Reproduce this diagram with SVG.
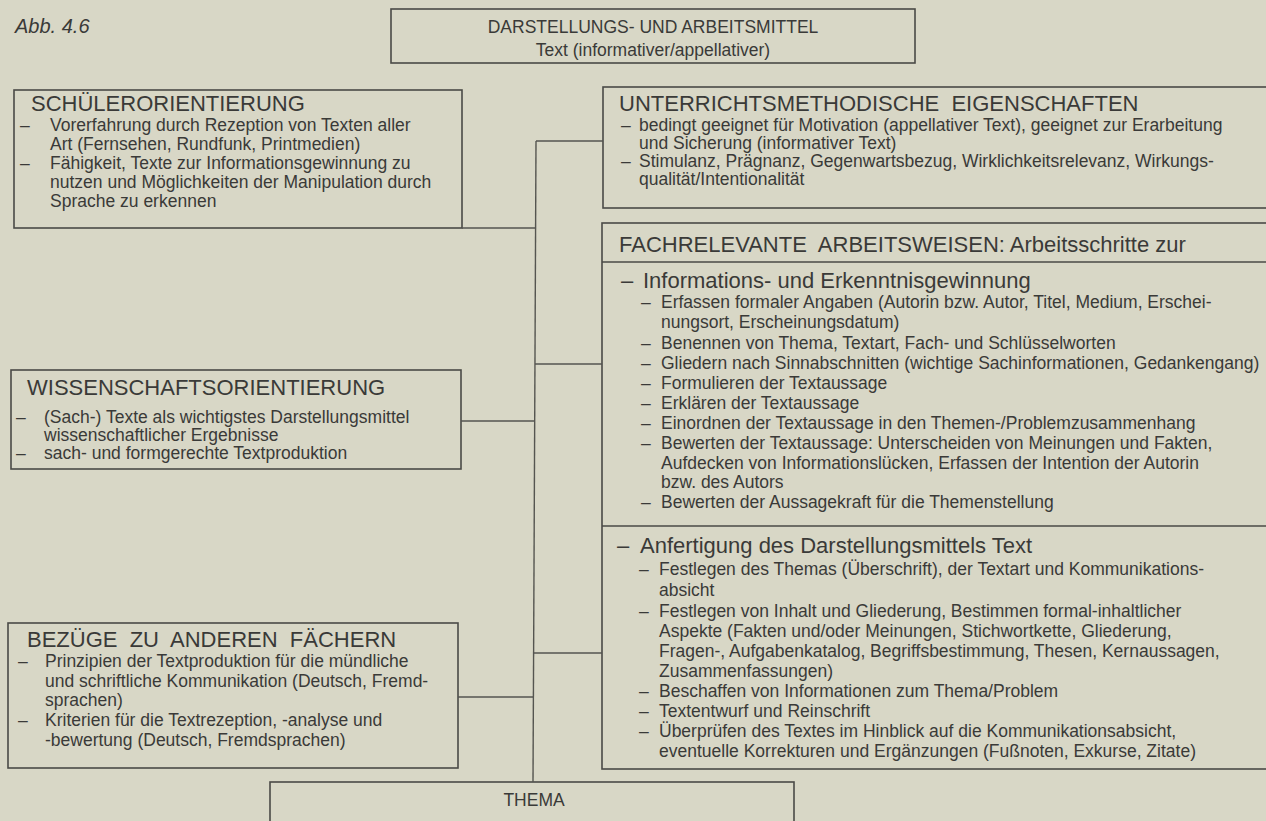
<svg xmlns="http://www.w3.org/2000/svg" width="1266" height="821" viewBox="0 0 1266 821">
<style>
  text { font-family: "Liberation Sans", Arial, Helvetica, sans-serif; fill: #3a3a38; white-space: pre; }
  .t { font-size: 22px; }
  .b { font-size: 17.5px; }
  .c { font-size: 17.5px; text-anchor: middle; }
  .abb { font-size: 20px; font-style: italic; }
  .box { fill: none; stroke: #4a4a46; stroke-width: 1.6; }
  .sep { stroke: #4a4a46; stroke-width: 1.6; }
  .conn line { stroke: #555550; stroke-width: 1.4; }
</style>
<rect x="0" y="0" width="1266" height="821" fill="#d8d7c6"/>

<text class="abb" x="15" y="33">Abb. 4.6</text>

<g id="darstellungsmittel">
  <rect class="box" x="391" y="9" width="524" height="54"/>
  <text class="c" x="653" y="33">DARSTELLUNGS- UND ARBEITSMITTEL</text>
  <text class="c" x="653" y="56">Text (informativer/appellativer)</text>
</g>

<g id="schuelerorientierung">
  <rect class="box" x="14" y="90" width="448" height="138"/>
  <text class="t" x="31" y="111">SCHÜLERORIENTIERUNG</text>
  <text class="b" x="20" y="131">–</text>
  <text class="b" x="50" y="131">Vorerfahrung durch Rezeption von Texten aller</text>
  <text class="b" x="50" y="150">Art (Fernsehen, Rundfunk, Printmedien)</text>
  <text class="b" x="20" y="169">–</text>
  <text class="b" x="50" y="169">Fähigkeit, Texte zur Informationsgewinnung zu</text>
  <text class="b" x="50" y="188">nutzen und Möglichkeiten der Manipulation durch</text>
  <text class="b" x="50" y="207">Sprache zu erkennen</text>
</g>

<g id="wissenschaftsorientierung">
  <rect class="box" x="11" y="370" width="450" height="99"/>
  <text class="t" x="27" y="395">WISSENSCHAFTSORIENTIERUNG</text>
  <text class="b" x="16" y="423">–</text>
  <text class="b" x="44" y="423">(Sach-) Texte als wichtigstes Darstellungsmittel</text>
  <text class="b" x="44" y="441">wissenschaftlicher Ergebnisse</text>
  <text class="b" x="16" y="459">–</text>
  <text class="b" x="44" y="459">sach- und formgerechte Textproduktion</text>
</g>

<g id="bezuege">
  <rect class="box" x="8" y="623" width="450" height="145"/>
  <text class="t" x="27" y="647">BEZÜGE  ZU  ANDEREN  FÄCHERN</text>
  <text class="b" x="18" y="667">–</text>
  <text class="b" x="45" y="667">Prinzipien der Textproduktion für die mündliche</text>
  <text class="b" x="45" y="687">und schriftliche Kommunikation (Deutsch, Fremd-</text>
  <text class="b" x="45" y="706">sprachen)</text>
  <text class="b" x="18" y="726">–</text>
  <text class="b" x="45" y="726">Kriterien für die Textrezeption, -analyse und</text>
  <text class="b" x="45" y="746">-bewertung (Deutsch, Fremdsprachen)</text>
</g>

<g id="unterrichtsmethodische-eigenschaften">
  <rect class="box" x="603" y="87" width="680" height="121"/>
  <text class="t" x="619" y="111">UNTERRICHTSMETHODISCHE  EIGENSCHAFTEN</text>
  <text class="b" x="621" y="131">–</text>
  <text class="b" x="639" y="131">bedingt geeignet für Motivation (appellativer Text), geeignet zur Erarbeitung</text>
  <text class="b" x="639" y="149">und Sicherung (informativer Text)</text>
  <text class="b" x="621" y="167">–</text>
  <text class="b" x="639" y="167">Stimulanz, Prägnanz, Gegenwartsbezug, Wirklichkeitsrelevanz, Wirkungs-</text>
  <text class="b" x="639" y="185">qualität/Intentionalität</text>
</g>

<g id="fachrelevante-arbeitsweisen">
  <rect class="box" x="602" y="223" width="680" height="546"/>
  <line class="sep" x1="602" y1="262" x2="1282" y2="262"/>
  <line class="sep" x1="602" y1="526" x2="1282" y2="526"/>
  <text class="t" x="619" y="252">FACHRELEVANTE  ARBEITSWEISEN: Arbeitsschritte zur</text>
  <g id="informationsgewinnung">
    <text class="t" x="621" y="288">–</text>
    <text class="t" x="643" y="288">Informations- und Erkenntnisgewinnung</text>
    <text class="b" x="641" y="308">–</text>
    <text class="b" x="661" y="308">Erfassen formaler Angaben (Autorin bzw. Autor, Titel, Medium, Erschei-</text>
    <text class="b" x="661" y="328">nungsort, Erscheinungsdatum)</text>
    <text class="b" x="641" y="349">–</text>
    <text class="b" x="661" y="349">Benennen von Thema, Textart, Fach- und Schlüsselworten</text>
    <text class="b" x="641" y="369">–</text>
    <text class="b" x="661" y="369">Gliedern nach Sinnabschnitten (wichtige Sachinformationen, Gedankengang)</text>
    <text class="b" x="641" y="389">–</text>
    <text class="b" x="661" y="389">Formulieren der Textaussage</text>
    <text class="b" x="641" y="409">–</text>
    <text class="b" x="661" y="409">Erklären der Textaussage</text>
    <text class="b" x="641" y="429">–</text>
    <text class="b" x="661" y="429">Einordnen der Textaussage in den Themen-/Problemzusammenhang</text>
    <text class="b" x="641" y="449">–</text>
    <text class="b" x="661" y="449">Bewerten der Textaussage: Unterscheiden von Meinungen und Fakten,</text>
    <text class="b" x="661" y="469">Aufdecken von Informationslücken, Erfassen der Intention der Autorin</text>
    <text class="b" x="661" y="488">bzw. des Autors</text>
    <text class="b" x="641" y="508">–</text>
    <text class="b" x="661" y="508">Bewerten der Aussagekraft für die Themenstellung</text>
  </g>
  <g id="anfertigung">
    <text class="t" x="617" y="553">–</text>
    <text class="t" x="640" y="553">Anfertigung des Darstellungsmittels Text</text>
    <text class="b" x="639" y="575">–</text>
    <text class="b" x="659" y="575">Festlegen des Themas (Überschrift), der Textart und Kommunikations-</text>
    <text class="b" x="659" y="596">absicht</text>
    <text class="b" x="639" y="617">–</text>
    <text class="b" x="659" y="617">Festlegen von Inhalt und Gliederung, Bestimmen formal-inhaltlicher</text>
    <text class="b" x="659" y="637">Aspekte (Fakten und/oder Meinungen, Stichwortkette, Gliederung,</text>
    <text class="b" x="659" y="657">Fragen-, Aufgabenkatalog, Begriffsbestimmung, Thesen, Kernaussagen,</text>
    <text class="b" x="659" y="677">Zusammenfassungen)</text>
    <text class="b" x="639" y="697">–</text>
    <text class="b" x="659" y="697">Beschaffen von Informationen zum Thema/Problem</text>
    <text class="b" x="639" y="717">–</text>
    <text class="b" x="659" y="717">Textentwurf und Reinschrift</text>
    <text class="b" x="639" y="737">–</text>
    <text class="b" x="659" y="737">Überprüfen des Textes im Hinblick auf die Kommunikationsabsicht,</text>
    <text class="b" x="659" y="757">eventuelle Korrekturen und Ergänzungen (Fußnoten, Exkurse, Zitate)</text>
  </g>
</g>

<g id="thema">
  <rect class="box" x="270" y="782" width="524" height="60"/>
  <text class="c" x="534" y="806">THEMA</text>
</g>

<g id="connectors" class="conn">
  <line x1="536" y1="141" x2="533" y2="782"/>
  <line x1="536" y1="141" x2="603" y2="141"/>
  <line x1="462" y1="228" x2="536" y2="228"/>
  <line x1="535" y1="364" x2="602" y2="364"/>
  <line x1="461" y1="421" x2="535" y2="421"/>
  <line x1="533" y1="653" x2="602" y2="653"/>
  <line x1="458" y1="697" x2="533" y2="697"/>
</g>
</svg>
